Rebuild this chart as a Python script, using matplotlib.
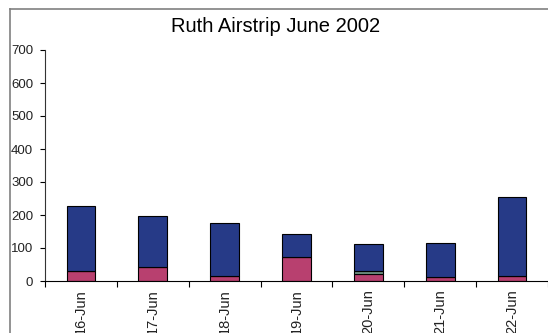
import numpy as np
import matplotlib.pyplot as plt
from matplotlib.lines import Line2D

days = ["16-Jun", "17-Jun", "18-Jun", "19-Jun", "20-Jun", "21-Jun", "22-Jun"]
pink = [31, 41, 15, 74, 20, 13, 15]
gray = [0, 0, 0, 0, 9, 0, 0]
blue = [197, 157, 160, 68, 83, 102, 239]

plt.rcParams['font.family'] = ['Liberation Sans', 'DejaVu Sans']

fig = plt.figure(figsize=(5.48, 3.33), dpi=100)
ax = fig.add_axes([45/548, 1-281/333, 1-45/548, 231/333])

x = np.arange(len(days))
w = 0.4
pink = np.array(pink)
gray = np.array(gray)
blue = np.array(blue)
ax.bar(x, pink, w, color="#b8406f", edgecolor="black", linewidth=0.8)
ax.bar(x, gray, w, bottom=pink, color="#6f8f80", edgecolor="black", linewidth=0.8)
ax.bar(x, blue, w, bottom=pink + gray, color="#263a87", edgecolor="black", linewidth=0.8)

ax.set_xlim(-0.5, len(days) - 0.5)
ax.set_ylim(0, 700)
ax.set_yticks(range(0, 701, 100))
ax.set_xticks(np.arange(-0.5, len(days)), minor=False)
ax.set_xticklabels([])
ax.set_xticks(x, minor=True)
ax.set_xticklabels(days, minor=True, rotation=90, fontsize=10.5, color="#222222")
ax.tick_params(axis="x", which="minor", length=0, pad=6)
ax.tick_params(axis="x", which="major", length=4, direction="out", color="black")
ax.tick_params(axis="y", length=3.5, direction="out", labelsize=9.5, pad=5, labelcolor="#222222")

for s in ["top", "right"]:
    ax.spines[s].set_visible(False)
ax.spines["left"].set_color("#333333")
ax.spines["bottom"].set_color("black")

fig.text(276/548, 1-27/333, "Ruth Airstrip June 2002", ha="center", va="center", fontsize=14.5)

fig.add_artist(Line2D([10/548, 10/548], [0, 1-8.5/333], color="#808080", linewidth=1.2))
fig.add_artist(Line2D([10/548, 1], [1-8.5/333, 1-8.5/333], color="#808080", linewidth=1.2))

fig.savefig("out.png", dpi=100)
